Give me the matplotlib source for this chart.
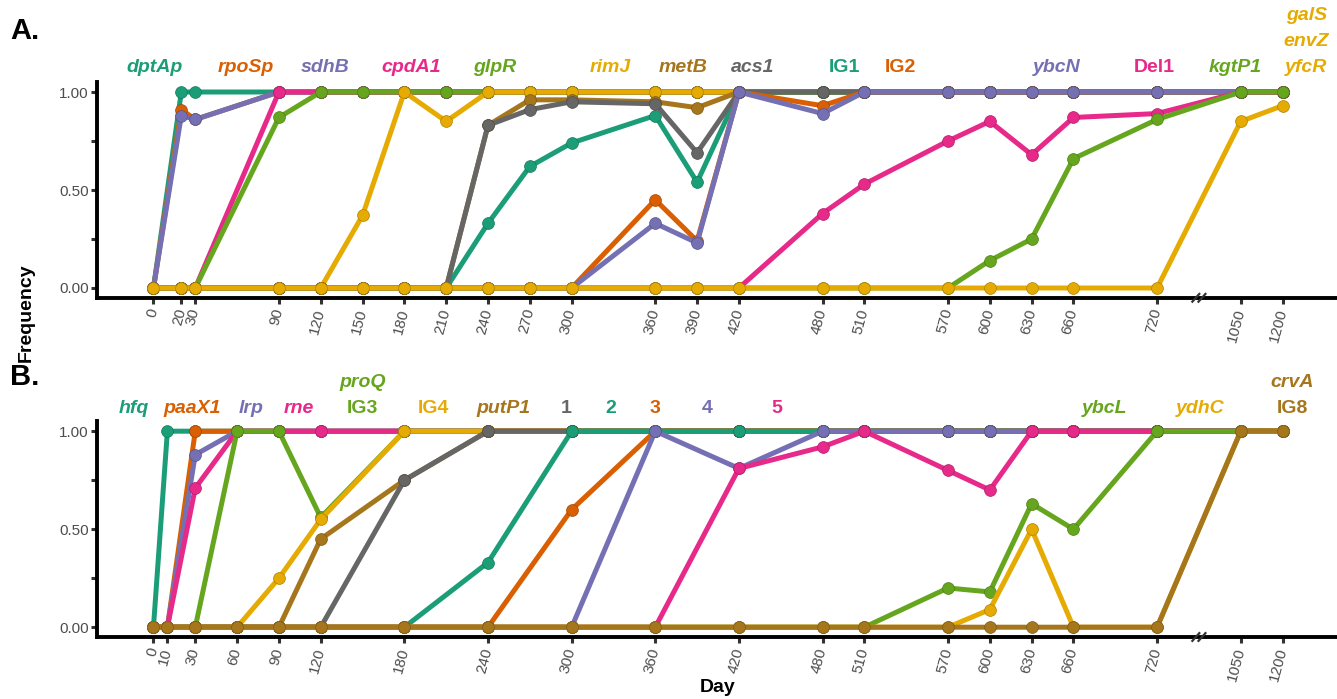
import numpy as np
import matplotlib
matplotlib.use("Agg")
import matplotlib.pyplot as plt
import matplotlib.transforms as mtransforms

plt.rcParams['font.family'] = ['Liberation Sans', 'DejaVu Sans']

# Dark2 palette
teal = '#1B9E77'
orange = '#D95F02'
purple = '#7570B3'
pink = '#E7298A'
green = '#66A61E'
yellow = '#E6AB02'
brown = '#A6761D'
grey = '#666666'

# ---------------- panel A data ----------------
days_a = [0, 20, 30, 90, 120, 150, 180, 210, 240, 270, 300, 360, 390, 420, 480, 510, 570, 600, 630, 660, 720, 1050, 1200]

dptAp = [0] + [1]*22
rpoSp = [0, 0.91, 0.86] + [1]*20
sdhB = [0, 0.88, 0.86] + [1]*20
cpdA1 = [0, 0, 0] + [1]*20
glpR = [0, 0, 0, 0.87] + [1]*19
rimJ = [0]*5 + [0.37, 1, 0.85] + [1]*15
metB = [0]*8 + [0.83, 0.96, 0.96, 0.95, 0.92, 1] + [1]*9
IG1 = [0]*8 + [0.33, 0.62, 0.74, 0.88, 0.54, 1] + [1]*9
acs1 = [0]*8 + [0.83, 0.91, 0.95, 0.94, 0.69, 1] + [1]*9
IG2 = [0]*11 + [0.45, 0.24, 1, 0.93] + [1]*8
ybcN = [0]*11 + [0.33, 0.23, 1, 0.89] + [1]*8
Del1 = [0]*14 + [0.38, 0.53, 0.75, 0.85, 0.68, 0.87, 0.89, 1, 1]
kgtP1 = [0]*17 + [0.14, 0.25, 0.66, 0.86, 1, 1]
galS = [0]*21 + [0.85, 0.93]

series_a = [dptAp, rpoSp, sdhB, cpdA1, glpR, rimJ, metB, IG1, acs1, IG2, ybcN, Del1, kgtP1, galS]
colors_a = [teal, orange, purple, pink, green, yellow, brown, teal, grey, orange, purple, pink, green, yellow]

# labels: (x position in axis days, lines [(text, italic)], color)
labels_a = [
    (1, [('dptAp', True)], teal),
    (66, [('rpoSp', True)], orange),
    (123, [('sdhB', True)], purple),
    (185, [('cpdA1', True)], pink),
    (245, [('glpR', True)], green),
    (328, [('rimJ', True)], yellow),
    (380, [('metB', True)], brown),
    (430, [('acs1', True)], grey),
    (496, [('IG1', False)], teal),
    (536, [('IG2', False)], orange),
    (648, [('ybcN', True)], purple),
    (718, [('Del1', False)], pink),
    (776, [('kgtP1', True)], green),
    (827, [('yfcR', True), ('envZ', True), ('galS', True)], yellow),
]

# ---------------- panel B data ----------------
days_b = [0, 10, 30, 60, 90, 120, 180, 240, 300, 360, 420, 480, 510, 570, 600, 630, 660, 720, 1050, 1200]

hfq = [0] + [1]*19
paaX1 = [0, 0] + [1]*18
lrp = [0, 0, 0.88] + [1]*17
rne = [0, 0, 0.71] + [1]*17
proQ = [0, 0, 0, 1, 1, 0.56] + [1]*14
IG4 = [0, 0, 0, 0, 0.25, 0.55] + [1]*14
putP1 = [0]*5 + [0.45, 0.75] + [1]*13
g1 = [0]*6 + [0.75] + [1]*13
g2 = [0]*7 + [0.33] + [1]*12
g3 = [0]*8 + [0.6] + [1]*11
g4 = [0]*9 + [1, 0.81, 1] + [1]*8
g5 = [0]*10 + [0.81, 0.92, 1, 0.8, 0.7, 1, 1, 1, 1, 1]
ybcL = [0]*13 + [0.2, 0.18, 0.63, 0.5, 1, 1, 1]
ydhC = [0]*14 + [0.09, 0.5, 0, 0, 1, 1]
crvA = [0]*18 + [1, 1]

series_b = [hfq, paaX1, lrp, rne, proQ, IG4, putP1, g1, g3, g2, g4, g5, ybcL, ydhC, crvA]
colors_b = [teal, orange, purple, pink, green, yellow, brown, grey, orange, teal, purple, pink, green, yellow, brown]

labels_b = [
    (-14, [('hfq', True)], teal),
    (28, [('paaX1', True)], orange),
    (70, [('lrp', True)], purple),
    (104, [('rne', True)], pink),
    (150, [('IG3', False), ('proQ', True)], green),
    (201, [('IG4', False)], yellow),
    (251, [('putP1', True)], brown),
    (296, [('1', False)], grey),
    (328, [('2', False)], teal),
    (360, [('3', False)], orange),
    (397, [('4', False)], purple),
    (447, [('5', False)], pink),
    (682, [('ybcL', True)], green),
    (751, [('ydhC', True)], yellow),
    (817, [('IG8', False), ('crvA', True)], brown),
]


def squash(d):
    # broken axis: days after 720 are compressed
    d = np.asarray(d, dtype=float)
    return np.where(d <= 720, d, 780 + (d - 1050) / 5.0)


def darker(c, f=0.75):
    rgb = np.array(matplotlib.colors.to_rgb(c))
    return tuple(rgb * f)


W, H = 1337, 699
fig = plt.figure(figsize=(W / 100, H / 100), dpi=100)

left = 97 / W
width = 1.0 - left + 2 / W
axA = fig.add_axes([left, 1 - 297.8 / H, width, 215.6 / H])
axB = fig.add_axes([left, 1 - 637 / H, width, 215.6 / H])


def draw_panel(ax, days, series, colors, labels, label_y):
    x = squash(days)
    for s, c in zip(series, colors):
        ax.plot(x, s, color=c, lw=3.6, marker='o', ms=8.5,
                mfc=c, mec=darker(c), mew=0.5, solid_capstyle='round', zorder=3)
    ax.set_xlim(-40.5, 850.5)
    ax.set_ylim(-0.05, 1.05)
    ax.set_xticks(x)
    ax.set_xticklabels([str(d) for d in days], rotation=75, ha='right', va='center',
                       rotation_mode='anchor', fontsize=11, color='#4D4D4D')
    ax.set_yticks([0, 0.25, 0.5, 0.75, 1.0])
    ax.set_yticklabels(['0.00', '', '0.50', '', '1.00'], fontsize=11, color='#4D4D4D')
    ax.tick_params(length=4, width=2.2, color='#333333', pad=2)
    ax.tick_params(axis='x', pad=4)
    for sp in ['top', 'right']:
        ax.spines[sp].set_visible(False)
    for sp in ['left', 'bottom']:
        ax.spines[sp].set_linewidth(2.8)
        ax.spines[sp].set_color('black')

    # break marks on x axis
    tr = mtransforms.blended_transform_factory(ax.transData, ax.transAxes)
    for dx in [-2.2, 2.2]:
        ax.plot([750 + dx - 2.5, 750 + dx + 2.5], [-0.018, 0.018], transform=tr,
                color='#333333', lw=1.6, clip_on=False, zorder=5)

    # gene labels above the panel
    for xpos, lines, c in labels:
        for k, (txt, it) in enumerate(lines):
            ax.text(xpos, label_y + k * 0.133, txt, color=c, fontsize=14, fontweight='bold',
                    style='italic' if it else 'normal', ha='center', va='baseline',
                    clip_on=False)


draw_panel(axA, days_a, series_a, colors_a, labels_a, 1.102)
draw_panel(axB, days_b, series_b, colors_b, labels_b, 1.095)

fig.text(10 / W, 1 - 31 / H, 'A.', fontsize=21, fontweight='bold', va='center', ha='left')
fig.text(10 / W, 1 - 377 / H, 'B.', fontsize=21, fontweight='bold', va='center', ha='left')
fig.text(26 / W, 1 - 313 / H, 'Frequency', fontsize=14, fontweight='bold',
         rotation=90, va='center', ha='center')
fig.text(718 / W, 1 - 688 / H, 'Day', fontsize=14, fontweight='bold', va='center', ha='center')

fig.savefig('out.png', dpi=100)
